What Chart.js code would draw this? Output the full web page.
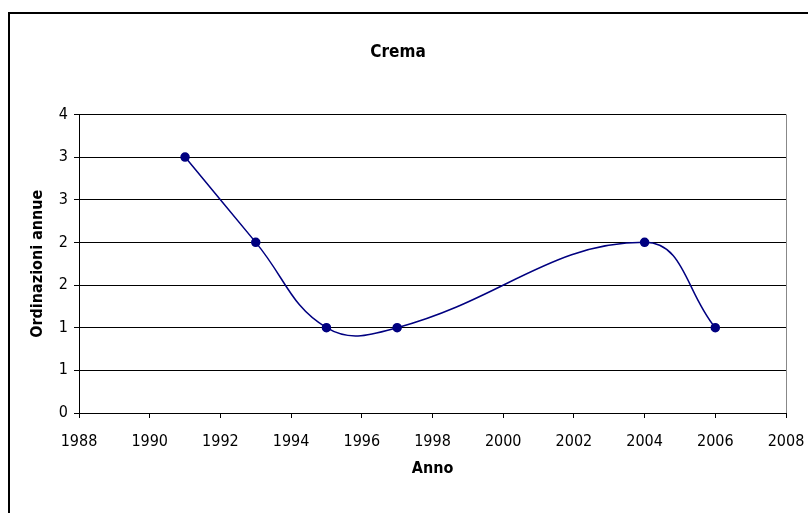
<!DOCTYPE html>
<html>
<head>
<meta charset="utf-8">
<script src="https://cdn.jsdelivr.net/npm/chart.js@4"></script>
<style>
  html, body { margin: 0; padding: 0; background: #fff; overflow: hidden; }
  #frame { position: absolute; left: 8px; top: 12px; width: 840px; height: 540px; border: 2px solid #000; }
  #wrap { position: absolute; left: 0; top: 0; width: 820px; height: 499px; }
</style>
</head>
<body>
<div id="frame"><div id="wrap"><canvas id="chart"></canvas></div></div>
<script>
const anni = [1991, 1993, 1995, 1997, 2004, 2006];
const ordinazioni = [3, 2, 1, 1, 2, 1];
const xMin = 1988, xMax = 2008, xStep = 2;
const yMin = 0, yMax = 3.5, yStep = 0.5;

const ctx = document.getElementById('chart');

Chart.defaults.font.family = '"DejaVu Sans Condensed", "DejaVu Sans", sans-serif';
Chart.defaults.color = '#000';

const lastX = (xMax - xMin) / xStep;

new Chart(ctx, {
    type: 'line',
    data: {
        datasets: [{
            label: 'Crema',
            data: anni.map((a, i) => ({ x: a, y: ordinazioni[i] })),
            borderColor: '#000080',
            backgroundColor: '#000080',
            borderWidth: 1.5,
            pointRadius: 4,
            pointHoverRadius: 4,
            tension: 0.42,
            fill: false,
        }],
    },
    options: {
        responsive: true,
        maintainAspectRatio: false,
        animation: false,
        layout: { padding: { left: 0, right: 44, top: 0, bottom: 0 } },
        plugins: {
            legend: { display: false },
            tooltip: { enabled: false },
            title: {
                display: true,
                text: 'Crema',
                font: { size: 17, weight: 'bold' },
                padding: { top: 28, bottom: 52 },
            },
        },
        scales: {
            x: {
                type: 'linear',
                min: xMin,
                max: xMax,
                ticks: { stepSize: xStep, font: { size: 16 }, padding: 14, maxRotation: 0, callback: v => String(v) },
                grid: {
                    drawOnChartArea: true,
                    color: c => (c.index === lastX ? '#888' : 'rgba(0,0,0,0)'),
                    tickColor: '#000',
                    tickLength: 5,
                },
                border: { color: '#000', width: 1 },
                title: { display: true, text: 'Anno', font: { size: 16, weight: 'bold' }, padding: { top: 10, bottom: 35 } },
                afterFit: s => { s.height = 100; },
            },
            y: {
                min: yMin,
                max: yMax,
                ticks: { stepSize: yStep, font: { size: 16 }, padding: 6, callback: v => String(Math.round(v)) },
                grid: { color: '#000', tickLength: 5 },
                border: { color: '#000', width: 1 },
                title: { display: true, text: 'Ordinazioni annue', font: { size: 16, weight: 'bold' }, padding: { top: 18, bottom: 4 } },
                afterFit: s => { s.width = 69; },
            },
        },
    },
});
</script>
</body>
</html>
